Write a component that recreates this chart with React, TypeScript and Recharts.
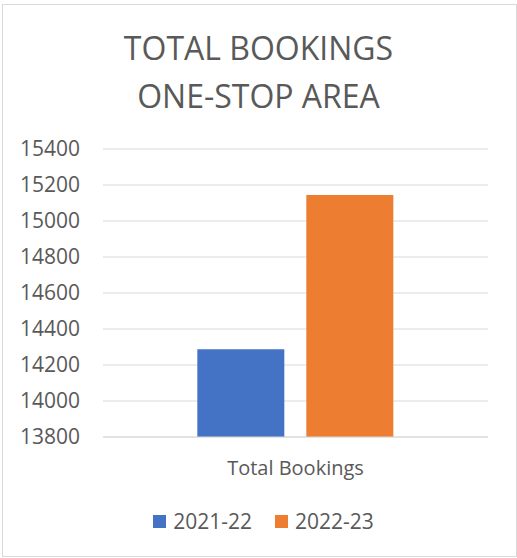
import { Bar, BarChart, CartesianGrid, Legend, XAxis, YAxis } from "recharts";

const categories = ["Total Bookings"];
const bookings2122 = [14288];
const bookings2223 = [15144];
const yTicks = [13800, 14000, 14200, 14400, 14600, 14800, 15000, 15200, 15400];

const data = categories.map((name, i) => ({
  name,
  y2122: bookings2122[i],
  y2223: bookings2223[i],
}));

const FONT = "'Open Sans', sans-serif";
const TEXT = "#595959";

const series = [
  { key: "y2122", label: "2021-22", color: "#4472c4" },
  { key: "y2223", label: "2022-23", color: "#ed7d31" },
];

function LegendBox() {
  return (
    <div
      style={{
        display: "flex",
        justifyContent: "center",
        gap: 23,
        fontFamily: FONT,
        fontSize: 21,
        color: TEXT,
        paddingTop: 10,
        marginLeft: 39,
      }}
    >
      {series.map((s) => (
        <div key={s.key} style={{ display: "flex", alignItems: "center", gap: 7 }}>
          <span style={{ width: 13, height: 13, background: s.color, display: "inline-block" }} />
          <span>{s.label}</span>
        </div>
      ))}
    </div>
  );
}

export default function App() {
  return (
    <div style={{ position: "absolute", left: 0, top: 0, width: 517, height: 558, background: "#fff" }}>
      <div
        style={{
          position: "absolute",
          left: 2,
          top: 4,
          width: 513,
          height: 551,
          border: "1px solid #d9d9d9",
        }}
      />
      <div
        style={{
          position: "absolute",
          left: 0,
          top: 24,
          width: 517,
          textAlign: "center",
          fontFamily: FONT,
          fontSize: 32,
          lineHeight: "48px",
          color: TEXT,
        }}
      >
        TOTAL BOOKINGS
        <br />
        ONE-STOP AREA
      </div>
      <BarChart
        width={517}
        height={558}
        data={data}
        margin={{ top: 149, right: 29, left: 0, bottom: 21 }}
        barCategoryGap="24.5%"
        barGap={22}
        style={{ position: "absolute", left: 0, top: 0 }}
      >
        <CartesianGrid vertical={false} stroke="#d9d9d9" />
        <XAxis
          dataKey="name"
          height={60}
          axisLine={{ stroke: "#d9d9d9" }}
          tickLine={false}
          tickMargin={18}
          tick={{ fontSize: 20, fill: TEXT, fontFamily: FONT }}
        />
        <YAxis
          width={103}
          domain={[13800, 15400]}
          ticks={yTicks}
          interval={0}
          axisLine={false}
          tickLine={false}
          tickMargin={17}
          tick={{ fontSize: 21, fill: TEXT, fontFamily: FONT }}
        />
        <Legend verticalAlign="bottom" height={40} content={() => <LegendBox />} />
        {series.map((s) => (
          <Bar key={s.key} dataKey={s.key} name={s.label} fill={s.color} isAnimationActive={false} />
        ))}
      </BarChart>
    </div>
  );
}
